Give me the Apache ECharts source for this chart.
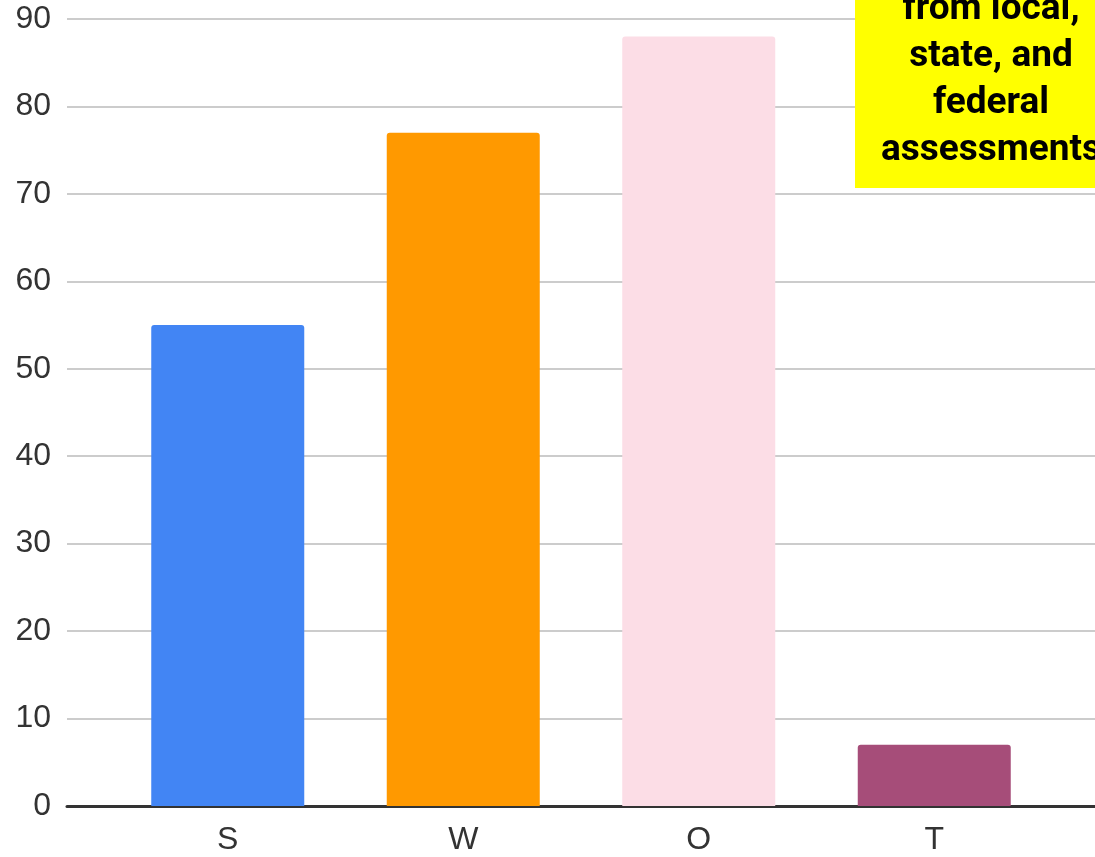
<!DOCTYPE html>
<html>
<head>
<meta charset="utf-8">
<script src="https://cdn.jsdelivr.net/npm/echarts@6/dist/echarts.min.js"></script>
<style>
html,body{margin:0;padding:0;background:#fff;}
#chart{width:1095px;height:857px;}
</style>
</head>
<body>
<div id="chart"></div>
<script>
const categories = ['S', 'W', 'O', 'T'];
const values = [55, 77, 88, 7];
const barColors = ['#4285F4', '#FF9900', '#FCDDE6', '#A64D79'];
const yTicks = { min: 0, max: 90, interval: 10 };
const noteLines = ['from local,', 'state, and', 'federal', 'assessments'];

const chart = echarts.init(document.getElementById('chart'));
chart.setOption({
  animation: false,
  backgroundColor: '#ffffff',
  grid: [
    { left: 67, right: 0, top: 19, bottom: 51, containLabel: false },
    { left: 110, width: 942, top: 19, bottom: 51, containLabel: false }
  ],
  xAxis: [
    { gridIndex: 0, type: 'value', min: 0, max: 1,
      axisLabel: { show: false }, axisTick: { show: false }, splitLine: { show: false },
      axisLine: { show: true, lineStyle: { color: '#333333', width: 3 } } },
    { gridIndex: 1, type: 'category', data: categories,
      axisLine: { show: false }, axisTick: { show: false },
      axisLabel: { fontSize: 32, color: '#333333', fontFamily: 'Liberation Sans, Arial, sans-serif', margin: 18 } }
  ],
  yAxis: [
    { gridIndex: 0, type: 'value', min: yTicks.min, max: yTicks.max, interval: yTicks.interval,
      axisLine: { show: false }, axisTick: { show: false },
      axisLabel: { fontSize: 32, color: '#333333', fontFamily: 'Liberation Sans, Arial, sans-serif', margin: 16 },
      splitLine: { show: true, lineStyle: { color: '#cccccc', width: 2 } } },
    { gridIndex: 1, type: 'value', min: yTicks.min, max: yTicks.max, interval: yTicks.interval, show: false }
  ],
  series: [
    { type: 'bar', xAxisIndex: 1, yAxisIndex: 1, barWidth: 153,
      data: values.map((v, i) => ({ value: v, itemStyle: { color: barColors[i], borderRadius: [3, 3, 0, 0] } })) }
  ],
  graphic: [
    { type: 'rect', z: 100, shape: { x: 855, y: -60, width: 272, height: 248 },
      style: { fill: '#FFFF00' } },
    { type: 'text', z: 101, x: 991, y: -14,
      style: { text: noteLines.join('\n'), align: 'center', verticalAlign: 'top',
        font: 'bold 37px Roboto, sans-serif', lineHeight: 47, fill: '#000000' } }
  ]
});
</script>
</body>
</html>
